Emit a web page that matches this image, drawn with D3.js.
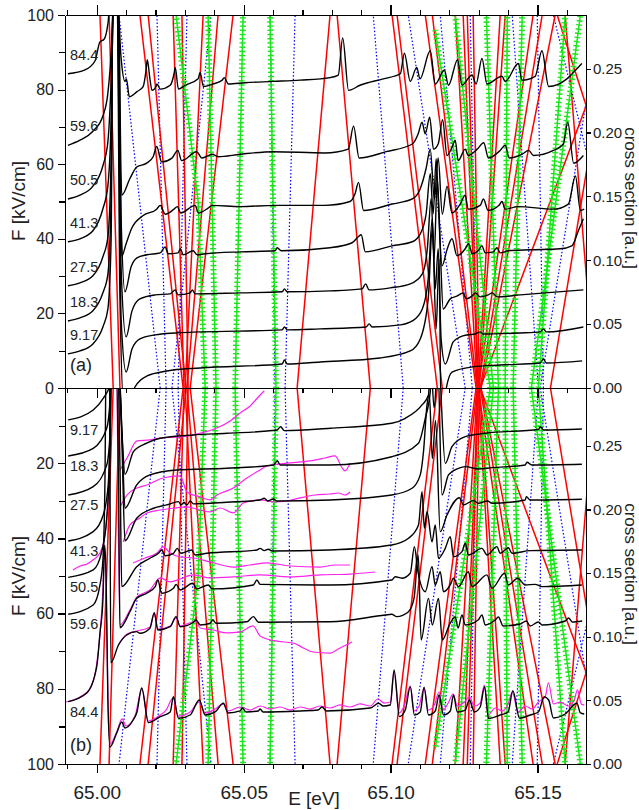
<!DOCTYPE html>
<html>
<head>
<meta charset="utf-8">
<script src="https://d3js.org/d3.v7.min.js"></script>
<style>
  body { margin: 0; background: #fff; }
  text { font-family: "Liberation Sans", Arial, Helvetica, sans-serif; fill: #222; }
  .axis path, .axis line { fill: none; stroke: #000; stroke-width: 1.2; shape-rendering: crispEdges; }
  .axis text { fill: #222; }
</style>
</head>
<body>
<svg id="chart" width="639" height="810"></svg>
<script>
// ---- ticks / labels ----
const xMajor = [65.00, 65.05, 65.10, 65.15];
const xMinor = [64.99, 65.01, 65.02, 65.03, 65.04, 65.06, 65.07, 65.08, 65.09, 65.11, 65.12, 65.13, 65.14, 65.16];
const fMajorA = [0, 20, 40, 60, 80, 100];
const fMajorB = [20, 40, 60, 80, 100];
const fMinor = [10, 30, 50, 70, 90];
const sTicks = [0, 0.05, 0.10, 0.15, 0.20, 0.25];
const fieldLabels = ["84.4", "59.6", "50.5", "41.3", "27.5", "18.3", "9.17"];

// ---- theory lines: [E at F=0, E at F=100] ----
const redLines = [
  [65.0056, 65.0011], [65.0079, 65.0042],
  [65.0294, 65.0147], [65.0304, 65.0175], [65.0297, 65.0260], [65.0311, 65.0290],
  [65.0301, 65.0362], [65.0307, 65.0413], [65.0318, 65.0464],
  [65.0931, 65.0818], [65.0682, 65.0794],
  [65.1159, 65.1005], [65.1176, 65.1022], [65.1291, 65.1118], [65.1295, 65.1142],
  [65.1295, 65.1220], [65.1298, 65.1247], [65.1298, 65.1261], [65.1302, 65.1281],
  [65.1298, 65.1373], [65.1302, 65.1390], [65.1298, 65.1485], [65.1305, 65.1516],
  [65.1308, 65.1560], [65.1972, 65.1567], [65.1697, 65.1594], [65.1544, 65.1755],
  [65.1305, 65.1782]
];
const blueLines = [
  [65.0216, 65.0076], [65.0236, 65.0205], [65.0256, 65.0389], [65.0277, 65.0307],
  [65.0607, 65.0590], [65.0641, 65.0675],
  [65.1043, 65.0941], [65.1254, 65.1060], [65.1278, 65.1169], [65.1295, 65.1271],
  [65.1503, 65.1414], [65.1520, 65.1499], [65.1509, 65.1713], [65.1860, 65.1554]
];
// green lines: lists of [E, F]
const greenLines = [
  [[65.0369, 0], [65.0345, 50], [65.0270, 100]],
  [[65.0406, 0], [65.0379, 100]],
  [[65.0471, 0], [65.0498, 100]],
  [[65.0610, 0], [65.0590, 100]],
  [[65.1339, 0], [65.1152, 96]],
  [[65.1350, 0], [65.1220, 100]],
  [[65.1367, 0], [65.1326, 100]],
  [[65.1390, 0], [65.1397, 100]],
  [[65.1417, 0], [65.1448, 100]],
  [[65.1503, 0], [65.1594, 100]],
  [[65.1479, 0], [65.1646, 100]]
];

// ---- panel (a): calculated cross sections [E, sigma] ----
const calcA84 = [[64.9902,0.246],[64.9960,0.249],[64.9994,0.256],[65.0011,0.271],[65.0025,0.273],[65.0038,0.285],[65.0049,0.31],[65.0069,0.31],[65.0083,0.258],[65.0096,0.240],[65.0101,0.242],[65.0111,0.228],[65.0137,0.232],[65.0158,0.236],[65.0168,0.249],[65.0172,0.257],[65.0181,0.242],[65.0188,0.233],[65.0202,0.236],[65.0205,0.238],[65.0216,0.234],[65.0250,0.237],[65.0263,0.246],[65.0267,0.251],[65.0278,0.234],[65.0301,0.237],[65.0345,0.242],[65.0352,0.247],[65.0363,0.236],[65.0396,0.238],[65.0427,0.241],[65.0434,0.243],[65.0448,0.238],[65.0505,0.239],[65.0600,0.240],[65.0692,0.241],[65.0794,0.243],[65.0822,0.245],[65.0837,0.274],[65.0857,0.233],[65.0896,0.237],[65.0975,0.242],[65.1033,0.246],[65.1047,0.262],[65.1067,0.240],[65.1089,0.251],[65.1100,0.242],[65.1135,0.264],[65.1152,0.238],[65.1183,0.249],[65.1197,0.237],[65.1228,0.257],[65.1243,0.237],[65.1277,0.245],[65.1291,0.238],[65.1311,0.258],[65.1328,0.238],[65.1379,0.244],[65.1390,0.240],[65.1435,0.254],[65.1447,0.241],[65.1492,0.244],[65.1515,0.264],[65.1538,0.236],[65.1600,0.242],[65.1634,0.250],[65.1651,0.254]];
const calcA59 = [[64.9902,0.190],[64.9943,0.194],[64.9987,0.201],[65.0021,0.213],[65.0038,0.231],[65.0052,0.274],[65.0059,0.31],[65.0073,0.31],[65.0085,0.151],[65.0113,0.164],[65.0136,0.173],[65.0170,0.176],[65.0192,0.181],[65.0204,0.189],[65.0221,0.177],[65.0256,0.180],[65.0276,0.186],[65.0289,0.178],[65.0340,0.185],[65.0358,0.180],[65.0394,0.183],[65.0413,0.181],[65.0488,0.183],[65.0600,0.185],[65.0777,0.184],[65.0856,0.187],[65.0874,0.205],[65.0893,0.180],[65.0985,0.185],[65.1074,0.191],[65.1094,0.199],[65.1107,0.208],[65.1118,0.199],[65.1133,0.212],[65.1146,0.187],[65.1162,0.191],[65.1177,0.210],[65.1192,0.182],[65.1210,0.189],[65.1220,0.194],[65.1230,0.178],[65.1254,0.187],[65.1264,0.182],[65.1295,0.187],[65.1317,0.192],[65.1333,0.180],[65.1373,0.186],[65.1390,0.190],[65.1404,0.180],[65.1448,0.183],[65.1470,0.186],[65.1486,0.182],[65.1554,0.186],[65.1588,0.191],[65.1603,0.208],[65.1623,0.176],[65.1656,0.182]];
const calcA50 = [[64.9902,0.148],[64.9943,0.151],[64.9987,0.158],[65.0021,0.174],[65.0038,0.193],[65.0052,0.258],[65.0059,0.31],[65.0073,0.31],[65.0085,0.103],[65.0100,0.113],[65.0119,0.125],[65.0158,0.135],[65.0204,0.140],[65.0216,0.143],[65.0233,0.136],[65.0263,0.140],[65.0274,0.142],[65.0286,0.137],[65.0335,0.143],[65.0346,0.137],[65.0380,0.141],[65.0393,0.143],[65.0488,0.142],[65.0607,0.143],[65.0777,0.143],[65.0862,0.146],[65.0879,0.152],[65.0891,0.161],[65.0908,0.139],[65.1005,0.144],[65.1074,0.148],[65.1101,0.156],[65.1121,0.172],[65.1135,0.187],[65.1149,0.148],[65.1162,0.180],[65.1176,0.136],[65.1192,0.158],[65.1209,0.137],[65.1237,0.144],[65.1254,0.151],[65.1264,0.140],[65.1305,0.143],[65.1316,0.148],[65.1332,0.139],[65.1369,0.143],[65.1379,0.146],[65.1390,0.140],[65.1434,0.142],[65.1554,0.140],[65.1605,0.144],[65.1629,0.166],[65.1646,0.139],[65.1659,0.140]];
const calcA41 = [[64.9902,0.1145],[64.9943,0.1168],[64.9987,0.1231],[65.0021,0.1403],[65.0038,0.1584],[65.0049,0.2109],[65.0056,0.31],[65.0069,0.31],[65.0083,0.1325],[65.0096,0.0753],[65.0117,0.0949],[65.0137,0.1019],[65.0171,0.1043],[65.0216,0.1058],[65.0233,0.1105],[65.0243,0.1051],[65.0277,0.1058],[65.0285,0.1090],[65.0294,0.1043],[65.0328,0.1074],[65.0342,0.1043],[65.0369,0.1051],[65.0488,0.1066],[65.0607,0.1074],[65.0614,0.1098],[65.0628,0.1074],[65.0794,0.1098],[65.0869,0.1137],[65.0890,0.1184],[65.0900,0.1200],[65.0914,0.1066],[65.1005,0.1113],[65.1074,0.1145],[65.1101,0.1207],[65.1121,0.1364],[65.1135,0.1678],[65.1145,0.1364],[65.1155,0.1795],[65.1162,0.1482],[65.1175,0.0956],[65.1193,0.1090],[65.1209,0.1168],[65.1226,0.1035],[65.1254,0.1090],[65.1265,0.1129],[65.1278,0.1051],[65.1298,0.1074],[65.1311,0.1113],[65.1322,0.1058],[65.1349,0.1066],[65.1362,0.1098],[65.1373,0.1058],[65.1400,0.1074],[65.1475,0.1082],[65.1577,0.1090],[65.1617,0.1113],[65.1639,0.1231],[65.1656,0.1325]];
const calcA27 = [[64.9902,0.0800],[64.9943,0.0823],[64.9987,0.0878],[65.0021,0.1027],[65.0038,0.1184],[65.0049,0.1795],[65.0055,0.31],[65.0069,0.31],[65.0083,0.0933],[65.0100,0.0400],[65.0120,0.0604],[65.0147,0.0698],[65.0199,0.0729],[65.0250,0.0737],[65.0267,0.0768],[65.0277,0.0729],[65.0318,0.0745],[65.0325,0.0768],[65.0335,0.0737],[65.0488,0.0745],[65.0631,0.0753],[65.0639,0.0776],[65.0648,0.0753],[65.0794,0.0760],[65.0903,0.0776],[65.0915,0.0815],[65.0927,0.0768],[65.0999,0.0784],[65.1067,0.0815],[65.1108,0.0894],[65.1125,0.1090],[65.1138,0.1482],[65.1148,0.1011],[65.1159,0.1639],[65.1169,0.1090],[65.1179,0.0619],[65.1203,0.0698],[65.1227,0.0721],[65.1247,0.0745],[65.1257,0.0698],[65.1278,0.0721],[65.1288,0.0745],[65.1305,0.0713],[65.1332,0.0729],[65.1346,0.0745],[65.1363,0.0713],[65.1441,0.0729],[65.1656,0.0768]];
const calcA18 = [[64.9902,0.0525],[64.9943,0.0549],[64.9987,0.0604],[65.0021,0.0745],[65.0038,0.0894],[65.0049,0.1482],[65.0055,0.31],[65.0069,0.31],[65.0083,0.0541],[65.0100,0.0125],[65.0120,0.0306],[65.0147,0.0384],[65.0199,0.0416],[65.0267,0.0431],[65.0352,0.0439],[65.0631,0.0455],[65.0639,0.0478],[65.0648,0.0455],[65.0760,0.0463],[65.0917,0.0478],[65.0927,0.0502],[65.0937,0.0478],[65.1033,0.0494],[65.1074,0.0525],[65.1108,0.0619],[65.1128,0.0855],[65.1142,0.1325],[65.1152,0.0776],[65.1162,0.1090],[65.1172,0.0384],[65.1186,0.0188],[65.1213,0.0361],[65.1237,0.0400],[65.1261,0.0416],[65.1288,0.0423],[65.1305,0.0439],[65.1315,0.0423],[65.1441,0.0431],[65.1509,0.0439],[65.1520,0.0463],[65.1530,0.0439],[65.1656,0.0478]];
const calcA9 = [[64.9902,0.0267],[64.9943,0.0290],[64.9987,0.0345],[65.0021,0.0478],[65.0038,0.0619],[65.0049,0.1168],[65.0055,0.31],[65.0069,0.31],[65.0079,0.0698],[65.0093,-0.0165],[65.0113,-0.0165],[65.0130,0.0008],[65.0171,0.0094],[65.0239,0.0133],[65.0352,0.0157],[65.0631,0.0188],[65.0639,0.0220],[65.0648,0.0188],[65.0760,0.0204],[65.0964,0.0235],[65.1067,0.0290],[65.1101,0.0384],[65.1128,0.0698],[65.1142,0.1247],[65.1155,0.0463],[65.1165,0.1011],[65.1172,-0.0243],[65.1179,-0.0165],[65.1189,-0.0008],[65.1209,0.0125],[65.1278,0.0165],[65.1373,0.0180],[65.1509,0.0196],[65.1520,0.0227],[65.1530,0.0196],[65.1652,0.0212]];

// ---- panel (b): calculated cross sections ----
const calcB9 = [[64.9903,0.2704],[64.9988,0.2782],[65.0022,0.2874],[65.0045,0.2979],[65.0052,0.32],[65.0073,0.32],[65.0086,0.26],[65.0096,0.2277],[65.0125,0.2455],[65.0170,0.2521],[65.0216,0.2560],[65.0329,0.2586],[65.0443,0.2599],[65.0613,0.2625],[65.0626,0.2651],[65.0638,0.2620],[65.0794,0.2639],[65.1004,0.2678],[65.1050,0.2717],[65.1107,0.2822],[65.1129,0.2900],[65.1136,0.32],[65.1148,0.28],[65.1162,0.32],[65.1186,0.2363],[65.1209,0.2494],[65.1254,0.2573],[65.1322,0.2599],[65.1504,0.2631],[65.1509,0.2651],[65.1521,0.2625],[65.1651,0.2633]];
const calcB18 = [[64.9903,0.2421],[64.9988,0.2481],[65.0034,0.2639],[65.0045,0.2848],[65.0052,0.32],[65.0073,0.32],[65.0086,0.26],[65.0096,0.2010],[65.0136,0.2193],[65.0181,0.2272],[65.0272,0.2311],[65.0443,0.2324],[65.0601,0.2350],[65.0615,0.2382],[65.0624,0.2350],[65.0794,0.2350],[65.1004,0.2415],[65.1095,0.2521],[65.1118,0.2717],[65.1135,0.2926],[65.1140,0.32],[65.1160,0.32],[65.1175,0.2114],[65.1197,0.2272],[65.1231,0.2324],[65.1254,0.2337],[65.1299,0.2319],[65.1345,0.2329],[65.1458,0.2350],[65.1464,0.2371],[65.1481,0.2350],[65.1651,0.2356]];
const calcB27 = [[64.9903,0.2114],[64.9988,0.2180],[65.0034,0.2350],[65.0045,0.2586],[65.0052,0.32],[65.0073,0.32],[65.0086,0.25],[65.0096,0.1753],[65.0136,0.1931],[65.0193,0.2010],[65.0238,0.2036],[65.0278,0.2062],[65.0287,0.2036],[65.0297,0.2057],[65.0307,0.2036],[65.0318,0.2067],[65.0329,0.2044],[65.0443,0.2057],[65.0556,0.2075],[65.0570,0.2088],[65.0583,0.2067],[65.0601,0.2083],[65.0613,0.2067],[65.0794,0.2075],[65.1004,0.2114],[65.1073,0.2167],[65.1101,0.2272],[65.1112,0.2455],[65.1124,0.2822],[65.1132,0.29],[65.1142,0.24],[65.1153,0.27],[65.1169,0.1826],[65.1192,0.1957],[65.1234,0.2093],[65.1248,0.2036],[65.1282,0.2070],[65.1299,0.2049],[65.1330,0.2067],[65.1345,0.2049],[65.1458,0.2075],[65.1462,0.2101],[65.1475,0.2075],[65.1651,0.2081]];
const calcB41 = [[64.9903,0.1753],[64.9988,0.1826],[65.0022,0.1957],[65.0039,0.2193],[65.0045,0.2586],[65.0050,0.32],[65.0070,0.32],[65.0080,0.22],[65.0085,0.1394],[65.0136,0.1551],[65.0181,0.1617],[65.0210,0.1656],[65.0221,0.1682],[65.0233,0.1637],[65.0261,0.1656],[65.0274,0.1695],[65.0286,0.1656],[65.0323,0.1682],[65.0335,0.1643],[65.0375,0.1656],[65.0545,0.1682],[65.0556,0.1695],[65.0570,0.1677],[65.0584,0.1688],[65.0597,0.1674],[65.0794,0.1682],[65.1004,0.1721],[65.1061,0.1774],[65.1095,0.1879],[65.1107,0.2140],[65.1115,0.1853],[65.1124,0.1983],[65.1141,0.1747],[65.1152,0.1879],[65.1163,0.1617],[65.1186,0.1695],[65.1203,0.1787],[65.1214,0.1629],[65.1243,0.1669],[65.1254,0.1735],[65.1265,0.1643],[65.1311,0.1695],[65.1328,0.1643],[65.1362,0.1708],[65.1373,0.1656],[65.1401,0.1700],[65.1413,0.1656],[65.1475,0.1677],[65.1651,0.1682]];
const calcB50 = [[64.9903,0.1467],[64.9988,0.1525],[65.0017,0.1669],[65.0034,0.1931],[65.0045,0.2455],[65.0049,0.32],[65.0066,0.32],[65.0075,0.20],[65.0079,0.1071],[65.0113,0.1197],[65.0136,0.1302],[65.0170,0.1342],[65.0199,0.1394],[65.0208,0.1446],[65.0221,0.1342],[65.0261,0.1381],[65.0270,0.1412],[65.0284,0.1368],[65.0327,0.1420],[65.0340,0.1376],[65.0380,0.1407],[65.0392,0.1376],[65.0533,0.1407],[65.0545,0.1446],[65.0556,0.1412],[65.0794,0.1407],[65.1004,0.1446],[65.1016,0.1472],[65.1038,0.1460],[65.1067,0.1499],[65.1081,0.1708],[65.1093,0.1511],[65.1118,0.1354],[65.1141,0.1551],[65.1152,0.1407],[65.1169,0.1511],[65.1180,0.1354],[65.1203,0.1407],[65.1214,0.1460],[65.1231,0.1394],[65.1265,0.1511],[65.1277,0.1394],[65.1328,0.1486],[65.1345,0.1381],[65.1388,0.1499],[65.1401,0.1407],[65.1433,0.1460],[65.1458,0.1407],[65.1492,0.1412],[65.1515,0.1394],[65.1651,0.1407]];
const calcB59 = [[64.9903,0.1177],[64.9988,0.1250],[65.0011,0.1407],[65.0021,0.1603],[65.0028,0.2232],[65.0032,0.32],[65.0043,0.32],[65.0048,0.0796],[65.0074,0.0935],[65.0102,0.1014],[65.0136,0.1040],[65.0147,0.1027],[65.0181,0.1067],[65.0196,0.1189],[65.0208,0.1053],[65.0250,0.1079],[65.0270,0.1158],[65.0284,0.1079],[65.0329,0.1114],[65.0338,0.1132],[65.0352,0.1093],[65.0386,0.1106],[65.0395,0.1132],[65.0406,0.1106],[65.0511,0.1118],[65.0533,0.1158],[65.0550,0.1114],[65.0794,0.1118],[65.0982,0.1171],[65.1004,0.1177],[65.1021,0.1158],[65.1061,0.1197],[65.1080,0.1305],[65.1094,0.1643],[65.1104,0.0975],[65.1129,0.1302],[65.1142,0.1093],[65.1163,0.1302],[65.1176,0.0975],[65.1203,0.1108],[65.1220,0.1155],[65.1230,0.1069],[65.1243,0.1171],[65.1254,0.1093],[65.1298,0.1132],[65.1311,0.1171],[65.1322,0.1093],[65.1356,0.1132],[65.1367,0.1155],[65.1383,0.1085],[65.1441,0.1100],[65.1462,0.1124],[65.1475,0.1085],[65.1503,0.1116],[65.1516,0.1093],[65.1594,0.1124],[65.1606,0.1148],[65.1618,0.1116],[65.1652,0.1124]];
const calcB84 = [[64.9903,0.0490],[64.9966,0.0558],[65.0000,0.0765],[65.0011,0.1030],[65.0021,0.1289],[65.0027,0.1721],[65.0032,0.1446],[65.0038,0.0503],[65.0045,0.0134],[65.0068,0.0244],[65.0085,0.0330],[65.0096,0.0283],[65.0124,0.0346],[65.0137,0.0409],[65.0153,0.0597],[65.0176,0.0325],[65.0216,0.0372],[65.0250,0.0409],[65.0261,0.0529],[65.0278,0.0359],[65.0318,0.0385],[65.0349,0.0503],[65.0369,0.0385],[65.0403,0.0409],[65.0431,0.0477],[65.0447,0.0401],[65.0488,0.0417],[65.0495,0.0440],[65.0508,0.0409],[65.0550,0.0417],[65.0556,0.0432],[65.0566,0.0409],[65.0692,0.0417],[65.0753,0.0424],[65.0767,0.0448],[65.0781,0.0417],[65.0931,0.0440],[65.0959,0.0477],[65.0975,0.0456],[65.0999,0.0464],[65.1012,0.0739],[65.1030,0.0372],[65.1050,0.0424],[65.1067,0.0608],[65.1081,0.0385],[65.1101,0.0409],[65.1114,0.0603],[65.1129,0.0385],[65.1152,0.0417],[65.1165,0.0542],[65.1180,0.0385],[65.1203,0.0417],[65.1214,0.0542],[65.1227,0.0409],[65.1254,0.0424],[65.1268,0.0503],[65.1285,0.0409],[65.1305,0.0448],[65.1320,0.0608],[65.1333,0.0359],[65.1373,0.0385],[65.1400,0.0409],[65.1416,0.0576],[65.1439,0.0359],[65.1475,0.0385],[65.1503,0.0409],[65.1523,0.0529],[65.1538,0.0503],[65.1554,0.0362],[65.1594,0.0393],[65.1634,0.0477],[65.1646,0.0401],[65.1659,0.0393]];

// ---- panel (b): measured spectra (magenta) ----
const measB9 = [[65.0079,0.2311],[65.0103,0.2405],[65.0137,0.2539],[65.0181,0.2547],[65.0216,0.2562],[65.0284,0.2570],[65.0328,0.2586],[65.0369,0.2610],[65.0409,0.2641],[65.0454,0.2696],[65.0488,0.2759],[65.0522,0.2814],[65.0556,0.2900],[65.0570,0.2932]];
const measB18 = [[65.0079,0.2020],[65.0103,0.2114],[65.0137,0.2169],[65.0171,0.2193],[65.0226,0.2248],[65.0284,0.2264],[65.0307,0.2138],[65.0352,0.2099],[65.0386,0.2075],[65.0409,0.2114],[65.0465,0.2169],[65.0511,0.2248],[65.0556,0.2311],[65.0579,0.2342],[65.0658,0.2366],[65.0726,0.2382],[65.0777,0.2405],[65.0811,0.2421],[65.0835,0.2327],[65.0845,0.2303],[65.0862,0.2366]];
const measB27 = [[65.0090,0.1745],[65.0113,0.1879],[65.0147,0.1934],[65.0171,0.1973],[65.0216,0.1996],[65.0267,0.2012],[65.0307,0.2020],[65.0352,0.1996],[65.0386,0.1981],[65.0420,0.2012],[65.0465,0.1973],[65.0499,0.2051],[65.0556,0.2075],[65.0607,0.2059],[65.0647,0.2067],[65.0692,0.2091],[65.0743,0.2114],[65.0794,0.2122],[65.0822,0.2130],[65.0845,0.2114],[65.0862,0.2138]];
const measB41 = [[65.0124,0.1580],[65.0164,0.1619],[65.0205,0.1658],[65.0226,0.1706],[65.0250,0.1658],[65.0284,0.1627],[65.0328,0.1619],[65.0386,0.1588],[65.0465,0.1548],[65.0522,0.1564],[65.0580,0.1580],[65.0658,0.1556],[65.0760,0.1548],[65.0811,0.1564],[65.0862,0.1564]];
const measB50 = [[64.9919,0.1525],[64.9943,0.1556],[64.9967,0.1572],[64.9987,0.1603],[65.0011,0.1658],[65.0025,0.1761],[65.0035,0.1957],[65.0045,0.2452],[65.0049,0.32],[65.0066,0.32],[65.0079,0.1093],[65.0113,0.1210],[65.0137,0.1313],[65.0181,0.1368],[65.0216,0.1462],[65.0250,0.1431],[65.0284,0.1454],[65.0328,0.1486],[65.0386,0.1462],[65.0465,0.1470],[65.0556,0.1486],[65.0658,0.1470],[65.0760,0.1486],[65.0862,0.1493],[65.0948,0.1509]];
const measB59 = [[65.0073,0.0935],[65.0103,0.1022],[65.0137,0.1045],[65.0181,0.1077],[65.0195,0.1179],[65.0209,0.1061],[65.0250,0.1085],[65.0270,0.1148],[65.0284,0.1085],[65.0338,0.1124],[65.0352,0.1069],[65.0396,0.1053],[65.0443,0.1030],[65.0488,0.1038],[65.0532,0.1085],[65.0556,0.1006],[65.0607,0.0967],[65.0669,0.0951],[65.0703,0.0912],[65.0737,0.0880],[65.0794,0.0872],[65.0828,0.0912],[65.0869,0.0959]];
const measB84 = [[64.9895,0.0487],[64.9943,0.0527],[64.9977,0.0590],[64.9998,0.0755],[65.0011,0.1014],[65.0021,0.1368],[65.0027,0.1698],[65.0032,0.1407],[65.0038,0.0503],[65.0045,0.0157],[65.0069,0.0259],[65.0086,0.0354],[65.0100,0.0299],[65.0130,0.0377],[65.0154,0.0590],[65.0175,0.0338],[65.0216,0.0385],[65.0236,0.0424],[65.0260,0.0519],[65.0277,0.0377],[65.0318,0.0409],[65.0348,0.0487],[65.0369,0.0401],[65.0403,0.0432],[65.0430,0.0472],[65.0447,0.0417],[65.0488,0.0448],[65.0522,0.0424],[65.0556,0.0456],[65.0590,0.0432],[65.0624,0.0448],[65.0658,0.0424],[65.0692,0.0448],[65.0726,0.0432],[65.0760,0.0456],[65.0794,0.0440],[65.0828,0.0464],[65.0862,0.0448],[65.0896,0.0472],[65.0931,0.0456],[65.0957,0.0511],[65.0978,0.0479],[65.0999,0.0487],[65.1012,0.0723],[65.1029,0.0401],[65.1046,0.0456],[65.1067,0.0613],[65.1080,0.0417],[65.1097,0.0456],[65.1114,0.0597],[65.1128,0.0424],[65.1149,0.0464],[65.1165,0.0566],[65.1179,0.0424],[65.1196,0.0479],[65.1213,0.0550],[65.1227,0.0456],[65.1251,0.0487],[65.1268,0.0527],[65.1285,0.0456],[65.1305,0.0479],[65.1319,0.0621],[65.1332,0.0385],[65.1356,0.0440],[65.1380,0.0417],[65.1400,0.0472],[65.1414,0.0566],[65.1434,0.0409],[65.1458,0.0456],[65.1482,0.0432],[65.1503,0.0487],[65.1526,0.0527],[65.1537,0.0637],[65.1554,0.0472],[65.1577,0.0487],[65.1605,0.0456],[65.1625,0.0503],[65.1636,0.0582],[65.1649,0.0472],[65.1659,0.0464]];

const calcA = [calcA84, calcA59, calcA50, calcA41, calcA27, calcA18, calcA9];
const calcB = [calcB84, calcB59, calcB50, calcB41, calcB27, calcB18, calcB9];
const measB = [measB84, measB59, measB50, measB41, measB27, measB18, measB9];

// ---- scales ----
var svg = d3.select("#chart");
var left = 65, right = 586;
var x = d3.scaleLinear().domain([64.9892, 65.1665]).range([left, right]);
var fA = d3.scaleLinear().domain([0, 100]).range([388, 15]);
var fB = d3.scaleLinear().domain([0, 100]).range([388, 764]);
var sA = d3.scaleLinear().domain([0, 0.292]).range([388, 15]);
var sB = d3.scaleLinear().domain([0, 0.2955]).range([764, 388]);

var defs = svg.append("defs");
defs.append("clipPath").attr("id", "clipA").append("rect")
    .attr("x", left).attr("y", 15).attr("width", right - left).attr("height", 373);
defs.append("clipPath").attr("id", "clipB").append("rect")
    .attr("x", left).attr("y", 388).attr("width", right - left).attr("height", 376);

function drawPanel(clipId, fy, sy, calc, meas) {
    var g = svg.append("g").attr("clip-path", "url(#" + clipId + ")");
    var lineEF = d3.line().x(d => x(d[0])).y(d => fy(d[1]));
    var lineS = d3.line().x(d => x(d[0])).y(d => sy(d[1])).curve(d3.curveMonotoneX);

    // blue dotted lines
    g.selectAll(".blue").data(blueLines).join("path")
        .attr("d", d => lineEF([[d[0], 0], [d[1], 100]]))
        .attr("fill", "none").attr("stroke", "#0000ff")
        .attr("stroke-width", 1.2).attr("stroke-dasharray", "1.5,2");

    // red lines
    g.selectAll(".red").data(redLines).join("path")
        .attr("d", d => lineEF([[d[0], 0], [d[1], 100]]))
        .attr("fill", "none").attr("stroke", "#ff0000").attr("stroke-width", 1.5);

    // green lines with + markers (thin line + dashed cross bars)
    g.selectAll(".green").data(greenLines).join("path")
        .attr("d", lineEF).attr("fill", "none")
        .attr("stroke", "#19e619").attr("stroke-width", 1.5);
    g.selectAll(".greenbar").data(greenLines).join("path")
        .attr("d", lineEF).attr("fill", "none")
        .attr("stroke", "#19e619").attr("stroke-width", 6)
        .attr("stroke-dasharray", "1.4,2.8");

    // measured (magenta)
    if (meas) {
        g.selectAll(".meas").data(meas).join("path")
            .attr("d", lineS).attr("fill", "none")
            .attr("stroke", "#ff22ee").attr("stroke-width", 1.2);
    }
    // calculated (black)
    g.selectAll(".calc").data(calc).join("path")
        .attr("d", lineS).attr("fill", "none")
        .attr("stroke", "#000").attr("stroke-width", 1.4);
}

drawPanel("clipA", fA, sA, calcA, null);
drawPanel("clipB", fB, sB, calcB, measB);

// curve labels
svg.append("g").selectAll("text").data(calcA).join("text")
    .attr("x", left + 5).attr("y", d => sA(d[0][1]) - 14)
    .style("font-size", "14.5px").text((d, i) => fieldLabels[i]);
svg.append("g").selectAll("text").data(calcB).join("text")
    .attr("x", left + 5).attr("y", d => sB(d[0][1]) + 15)
    .style("font-size", "14.5px").text((d, i) => fieldLabels[i]);

svg.append("text").attr("x", left + 5).attr("y", 371).style("font-size", "18px").text("(a)");
svg.append("text").attr("x", left + 5).attr("y", 751).style("font-size", "18px").text("(b)");

// ---- axes ----
function addAxis(axis, tx, ty, fontSize) {
    var g = svg.append("g").attr("class", "axis")
        .attr("transform", "translate(" + tx + "," + ty + ")").call(axis);
    g.selectAll("text").style("font-size", fontSize);
    return g;
}
var noLab = () => "";

// top of (a)
addAxis(d3.axisTop(x).tickValues(xMajor).tickSize(10).tickSizeOuter(0).tickFormat(noLab), 0, 15);
addAxis(d3.axisTop(x).tickValues(xMinor).tickSize(5).tickSizeOuter(0).tickFormat(noLab), 0, 15);
// boundary between panels
addAxis(d3.axisBottom(x).tickValues(xMajor).tickSize(10).tickSizeOuter(0).tickFormat(noLab), 0, 388);
addAxis(d3.axisBottom(x).tickValues(xMinor).tickSize(5).tickSizeOuter(0).tickFormat(noLab), 0, 388);
// bottom of (b)
addAxis(d3.axisBottom(x).tickValues(xMajor).tickSize(9).tickSizeOuter(0).tickPadding(13)
    .tickFormat(d3.format(".2f")), 0, 764, "19px");
addAxis(d3.axisBottom(x).tickValues(xMinor).tickSize(5).tickSizeOuter(0).tickFormat(noLab), 0, 764);

// left
addAxis(d3.axisLeft(fA).tickValues(fMajorA).tickSize(7).tickSizeOuter(0).tickPadding(4), left, 0, "16px");
addAxis(d3.axisLeft(fA).tickValues(fMinor).tickSize(6).tickSizeOuter(0).tickFormat(noLab), left, 0);
addAxis(d3.axisLeft(fB).tickValues(fMajorB).tickSize(7).tickSizeOuter(0).tickPadding(4), left, 0, "16px");
addAxis(d3.axisLeft(fB).tickValues(fMinor).tickSize(6).tickSizeOuter(0).tickFormat(noLab), left, 0);

// right
addAxis(d3.axisRight(sA).tickValues(sTicks).tickSize(5).tickSizeOuter(0).tickPadding(2)
    .tickFormat(d3.format(".2f")), right, 0, "15px");
addAxis(d3.axisRight(sB).tickValues(sTicks).tickSize(5).tickSizeOuter(0).tickPadding(2)
    .tickFormat(d3.format(".2f")), right, 0, "15px");

// axis titles
svg.append("text").attr("transform", "translate(25,201) rotate(-90)")
    .style("text-anchor", "middle").style("font-size", "19px").text("F [kV/cm]");
svg.append("text").attr("transform", "translate(25,576) rotate(-90)")
    .style("text-anchor", "middle").style("font-size", "19px").text("F [kV/cm]");
svg.append("text").attr("transform", "translate(625,198) rotate(90)")
    .style("text-anchor", "middle").style("font-size", "17px").text("cross section [a.u.]");
svg.append("text").attr("transform", "translate(625,574) rotate(90)")
    .style("text-anchor", "middle").style("font-size", "17px").text("cross section [a.u.]");
svg.append("text").attr("x", 314).attr("y", 805)
    .style("text-anchor", "middle").style("font-size", "19px").text("E [eV]");
</script>
</body>
</html>
